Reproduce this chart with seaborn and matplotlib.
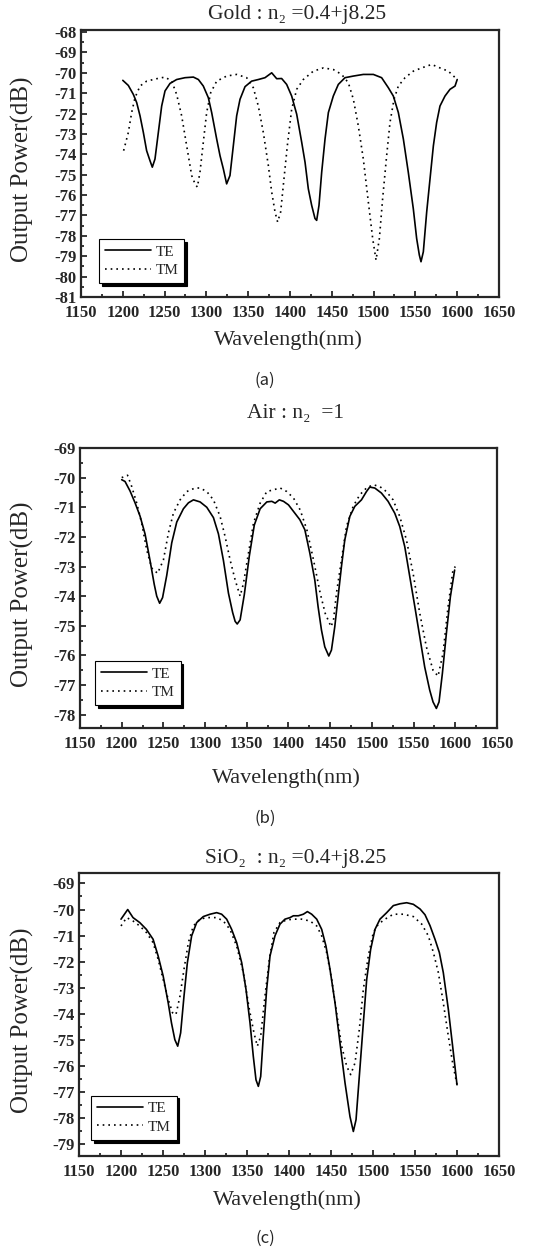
import numpy as np
import pandas as pd
import matplotlib
matplotlib.use('Agg')
import matplotlib.pyplot as plt
from matplotlib.ticker import MultipleLocator
import seaborn as sns

# ---- data (wavelength in nm, output power in dB) ----
gold_te_wl = [1200, 1206.6, 1212.6, 1216.6, 1220.6, 1224.6, 1228.5, 1232.5, 1235.3, 1238.5, 1242.5, 1246.5,
              1250.5, 1256.5, 1264.4, 1274.4, 1284.4, 1290.4, 1296.3, 1302.3, 1306.3, 1312.3, 1316.3, 1320.3,
              1324.2, 1328.2, 1332.2, 1336.2, 1340.2, 1346.2, 1354.1, 1362.1, 1370.1, 1378.1, 1384.1, 1390.0,
              1396.0, 1402.0, 1408.0, 1414.0, 1418.0, 1421.9, 1425.9, 1429.9, 1431.9, 1434.7, 1437.9, 1441.9,
              1445.9, 1451.8, 1457.8, 1465.8, 1475.8, 1487.7, 1499.7, 1509.6, 1517.6, 1523.6, 1529.6, 1535.6,
              1541.5, 1547.5, 1551.5, 1554.7, 1556.7, 1559.5, 1563.5, 1567.5, 1571.5, 1575.4, 1579.4, 1585.4,
              1591.4, 1597.4, 1600]
gold_te = [-70.37, -70.62, -71.06, -71.46, -72.11, -72.93, -73.82, -74.31, -74.63, -74.23, -72.93, -71.63,
           -70.89, -70.52, -70.33, -70.24, -70.21, -70.33, -70.65, -71.22, -71.95, -73.25, -74.07, -74.72,
           -75.45, -75.04, -73.58, -72.11, -71.30, -70.68, -70.41, -70.33, -70.24, -70.0, -70.29, -70.28,
           -70.57, -71.14, -72.03, -73.41, -74.39, -75.69, -76.50, -77.15, -77.24, -76.50, -74.88, -73.25,
           -71.95, -71.14, -70.57, -70.24, -70.16, -70.08, -70.08, -70.24, -70.73, -71.14, -71.95, -73.25,
           -74.88, -76.67, -78.13, -78.94, -79.27, -78.78, -76.83, -75.2, -73.58, -72.44, -71.63, -71.14,
           -70.81, -70.65, -70.33]
gold_tm_wl = [1201, 1206.6, 1210.6, 1214.6, 1220.6, 1228.5, 1240.5, 1250.5, 1258.5, 1264.4, 1270.4, 1276.4,
              1282.4, 1286.4, 1289.2, 1292.3, 1296.3, 1300.3, 1305.1, 1312.3, 1324.2, 1336.2, 1348.2, 1356.1,
              1362.1, 1368.1, 1374.1, 1378.1, 1382.1, 1385.2, 1388.8, 1392.8, 1396.8, 1402.0, 1408.0, 1415.9,
              1427.9, 1439.9, 1451.8, 1461.8, 1469.8, 1475.8, 1481.7, 1487.7, 1493.7, 1498.9, 1502.9, 1506.9,
              1510.8, 1515.6, 1519.6, 1524.4, 1529.6, 1537.6, 1547.5, 1557.5, 1569.5, 1579.4, 1589.4, 1600]
gold_tm = [-73.82, -72.93, -71.95, -71.22, -70.65, -70.41, -70.29, -70.21, -70.41, -71.06, -72.11, -73.58,
           -75.04, -75.45, -75.61, -74.88, -73.41, -71.95, -70.98, -70.41, -70.16, -70.08, -70.24, -70.73,
           -71.63, -72.93, -74.55, -75.85, -76.83, -77.32, -76.83, -75.20, -73.58, -71.79, -70.81, -70.33,
           -69.92, -69.76, -69.84, -70.08, -70.49, -71.30, -72.60, -74.23, -76.34, -78.13, -79.19, -78.13,
           -76.18, -74.07, -72.44, -71.30, -70.65, -70.24, -69.92, -69.76, -69.59, -69.76, -69.92, -70.33]

air_te_wl = [1200, 1204, 1210, 1216, 1222, 1228, 1234, 1239, 1242, 1245.5, 1249, 1254, 1260, 1266, 1274,
             1280, 1286, 1294, 1302, 1310, 1316, 1322, 1328, 1333, 1336, 1338.5, 1342, 1347, 1353, 1359,
             1366, 1374, 1380, 1384, 1389, 1394, 1400, 1413.6, 1419.6, 1425.6, 1431.5, 1435.5, 1439.5,
             1443.5, 1448.3, 1451.5, 1455.5, 1459.5, 1463.5, 1467.5, 1473.5, 1479.5, 1487.5, 1493.5, 1497.4,
             1503.4, 1511.4, 1519.4, 1527.4, 1533.4, 1539.4, 1545.4, 1551.5, 1557.4, 1563.3, 1569.3, 1573.3,
             1577.3, 1580.5, 1584.5, 1589.3, 1594.1, 1599.2]
air_te = [-70.07, -70.13, -70.45, -70.85, -71.3, -71.9, -72.8, -73.6, -74.0, -74.24, -74.05, -73.3, -72.2,
          -71.5, -71.05, -70.85, -70.75, -70.82, -71.0, -71.35, -71.9, -72.8, -73.9, -74.55, -74.85, -74.94,
          -74.8, -73.95, -72.65, -71.6, -71.05, -70.82, -70.8, -70.86, -70.75, -70.8, -70.92, -71.42, -71.76,
          -72.55, -73.45, -74.36, -75.14, -75.71, -76.02, -75.82, -75.03, -74.01, -73.0, -72.10, -71.31,
          -70.97, -70.75, -70.47, -70.32, -70.35, -70.52, -70.80, -71.20, -71.65, -72.33, -73.34, -74.36,
          -75.37, -76.39, -77.17, -77.57, -77.79, -77.57, -76.61, -75.26, -74.02, -73.12]
air_tm_wl = [1200, 1207, 1212, 1218, 1224, 1230, 1236, 1243, 1250, 1256, 1262, 1270, 1278, 1288, 1294, 1302,
             1310, 1318, 1324, 1330, 1336, 1342, 1346, 1352, 1358, 1366, 1374, 1382, 1390, 1398, 1406, 1414,
             1422, 1430, 1438, 1444, 1451, 1454, 1457.5, 1463.5, 1469.5, 1477.5, 1485.5, 1493.5, 1501.5,
             1509.4, 1517.4, 1525.4, 1533.4, 1541.4, 1549.4, 1557.4, 1565.3, 1573.3, 1579.3, 1585.3, 1591.3,
             1597.2, 1600]
air_tm = [-70.0, -69.92, -70.3, -70.86, -71.54, -72.44, -73.05, -73.23, -72.78, -71.87, -71.2, -70.75,
          -70.47, -70.35, -70.35, -70.47, -70.75, -71.31, -71.99, -72.78, -73.45, -74.0, -73.57, -72.55,
          -71.54, -70.86, -70.47, -70.41, -70.35, -70.47, -70.69, -71.09, -71.76, -72.78, -73.90, -74.58,
          -75.03, -74.8, -73.9, -72.78, -71.65, -70.97, -70.58, -70.35, -70.24, -70.30, -70.47, -70.75,
          -71.31, -72.10, -73.23, -74.58, -75.71, -76.50, -76.7, -75.93, -74.36, -73.12, -73.0]

sio2_te_wl = [1200, 1208, 1214.3, 1222.3, 1230.2, 1238.2, 1244.2, 1250.2, 1256.2, 1260.1, 1264.1, 1267.5,
              1271, 1275, 1279, 1284.1, 1290.1, 1298, 1306, 1313.9, 1319.8, 1325.8, 1331.7, 1337.7, 1343.7,
              1348.8, 1353.6, 1357.5, 1360.7, 1363.5, 1366.3, 1369.4, 1373.4, 1377.4, 1383.3, 1389.3, 1395.2,
              1401.2, 1405.2, 1411.1, 1417.1, 1421.9, 1427, 1433, 1438.9, 1444, 1448.8, 1454.8, 1460.7,
              1466.7, 1472.6, 1476.6, 1479.8, 1483.7, 1488.5, 1492.5, 1497.2, 1502.4, 1508.3, 1516.3, 1524.2,
              1532.1, 1540.1, 1548, 1556, 1561.9, 1567.9, 1573.8, 1579, 1583.7, 1589.7, 1594.8, 1600]
sio2_te = [-70.37, -70.0, -70.31, -70.5, -70.76, -71.14, -71.78, -72.55, -73.58, -74.35, -74.99, -75.24,
           -74.73, -73.32, -72.04, -71.01, -70.5, -70.27, -70.18, -70.12, -70.18, -70.37, -70.76, -71.27,
           -72.04, -73.06, -74.35, -75.63, -76.53, -76.78, -76.4, -74.86, -73.06, -71.78, -71.01, -70.56,
           -70.37, -70.31, -70.24, -70.24, -70.18, -70.08, -70.18, -70.37, -70.76, -71.4, -72.29, -73.58,
           -75.12, -76.65, -77.94, -78.51, -78.06, -76.4, -74.35, -72.68, -71.53, -70.76, -70.37, -70.12,
           -69.85, -69.78, -69.74, -69.8, -69.98, -70.2, -70.62, -71.14, -71.65, -72.42, -73.83, -75.24,
           -76.72]
sio2_tm_wl = [1200, 1206.7, 1214.3, 1222.3, 1230.2, 1238.2, 1244.2, 1250.2, 1256.2, 1261.4, 1265.4, 1270.2,
              1275, 1280.2, 1286.1, 1294, 1302, 1313.9, 1321.8, 1329.7, 1337.7, 1345.6, 1352.8, 1358.3,
              1362.3, 1366.3, 1371.4, 1376.6, 1382.1, 1389.3, 1397.2, 1405.2, 1415.1, 1425, 1433, 1438.9,
              1444.8, 1450.8, 1456.7, 1462.7, 1468.7, 1473.4, 1478.6, 1483.7, 1488.5, 1494.4, 1500.4, 1506.3,
              1514.3, 1524.2, 1536.1, 1548, 1558, 1565.9, 1571.9, 1577.8, 1583.7, 1589.7, 1594.8, 1600]
sio2_tm = [-70.63, -70.31, -70.44, -70.63, -70.88, -71.27, -71.91, -72.68, -73.45, -73.96, -74.03, -73.32,
           -72.29, -71.27, -70.63, -70.37, -70.31, -70.31, -70.44, -70.76, -71.4, -72.42, -73.83, -74.73,
           -75.24, -74.86, -73.32, -71.91, -70.88, -70.5, -70.4, -70.37, -70.37, -70.44, -70.63, -71.01,
           -71.65, -72.68, -73.96, -75.24, -76.01, -76.33, -75.88, -74.60, -73.06, -71.78, -70.88, -70.56,
           -70.37, -70.18, -70.18, -70.27, -70.56, -71.01, -71.65, -72.42, -73.58, -74.86, -75.88, -76.72]

titles = ['Gold : n\u2082 =0.4+j8.25', 'Air : n\u2082  =1', 'SiO\u2082  : n\u2082 =0.4+j8.25']
captions = ['(a)', '(b)', '(c)']
yticks = [np.arange(-81, -67, 1), np.arange(-78, -68, 1), np.arange(-79, -68, 1)]
xticks = np.arange(1150, 1651, 50)

sns.set_style('ticks')
plt.rcParams['font.family'] = ['Liberation Serif', 'DejaVu Serif']

W, H = 540, 1252
fig = plt.figure(figsize=(W / 100, H / 100), dpi=100)

def px_axes(left, top, right, bottom):
    return fig.add_axes([left / W, 1 - bottom / H, (right - left) / W, (bottom - top) / H])

# axes boxes in pixel coords (left, top, right, bottom)
boxes = [(81, 30, 499, 297), (80, 448, 497, 728), (79, 873, 499, 1156)]
ylims = [(-81.0, -67.9), (-78.45, -69.0), (-79.45, -68.6)]
title_y = [15, 413, 858]
xlabel_y = [340, 778, 1200]
caption_y = [380, 818, 1238]
legend_anchor = [(0.043, 0.052), (0.036, 0.082), (0.029, 0.057)]
series = [(gold_te_wl, gold_te, gold_tm_wl, gold_tm),
          (air_te_wl, air_te, air_tm_wl, air_tm),
          (sio2_te_wl, sio2_te, sio2_tm_wl, sio2_tm)]

for i, (te_wl, te, tm_wl, tm) in enumerate(series):
    ax = px_axes(*boxes[i])
    sns.lineplot(x=te_wl, y=te, ax=ax, color='black', lw=1.2, sort=False, estimator=None, label='TE')
    sns.lineplot(x=tm_wl, y=tm, ax=ax, color='black', lw=1.2, sort=False, estimator=None, label='TM',
                 linestyle=(0, (1, 2.4)))
    ax.set_xlim(1150, 1650)
    ax.set_ylim(*ylims[i])
    ax.set_xticks(xticks)
    ax.set_yticks(yticks[i])
    ax.xaxis.set_minor_locator(MultipleLocator(25))
    ax.yaxis.set_minor_locator(MultipleLocator(0.5))
    ax.set_yticklabels([f'{v:d}' for v in yticks[i]])
    ax.tick_params(which='both', direction='in', top=False, right=False, width=1.3)
    ax.tick_params(which='major', length=4, labelsize=12)
    ax.tick_params(axis='x', which='major', pad=6)
    ax.tick_params(axis='y', which='major', pad=3)
    ax.tick_params(which='minor', length=2.5)
    for lab in ax.get_xticklabels() + ax.get_yticklabels():
        lab.set_fontweight('bold')
    for sp in ax.spines.values():
        sp.set_linewidth(1.6)
        sp.set_visible(True)
    ax.set_xlabel('')
    ax.set_ylabel('')
    leg = ax.legend(loc='lower left', bbox_to_anchor=legend_anchor[i], borderaxespad=0, frameon=True,
                    fancybox=False, edgecolor='black', framealpha=1, fontsize=11, handlelength=3.0,
                    handletextpad=0.3, borderpad=0.4, labelspacing=0.3,
                    shadow={'color': 'black', 'alpha': 1.0})
    leg.get_frame().set_linewidth(0.8)

    cx = (boxes[i][0] + boxes[i][2]) / 2
    fig.text((cx + 7) / W, 1 - title_y[i] / H, titles[i], ha='center', va='center', fontsize=15.5)
    fig.text((cx - 2) / W, 1 - xlabel_y[i] / H, 'Wavelength(nm)', ha='center', va='center', fontsize=16)
    fig.text(22 / W, 1 - ((boxes[i][1] + boxes[i][3]) / 2 + 6) / H, 'Output Power(dB)', ha='center',
             va='center', rotation=90, fontsize=18)
    fig.text(265 / W, 1 - caption_y[i] / H, captions[i], ha='center', va='center', fontsize=12,
             family=['Noto Sans CJK KR', 'DejaVu Sans'])

fig.savefig('out.png', dpi=100, facecolor='white')
